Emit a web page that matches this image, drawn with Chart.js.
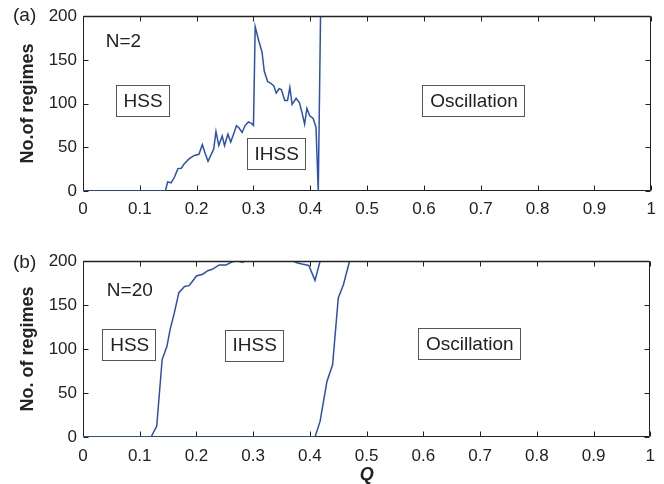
<!DOCTYPE html>
<html>
<head>
<meta charset="utf-8">
<script src="https://cdn.jsdelivr.net/npm/chart.js@4/dist/chart.umd.min.js"></script>
<style>
    html, body { margin: 0; padding: 0; background: #fff; }
    #wrap { position: relative; width: 664px; height: 484px; }
    .panel { position: absolute; left: 0; width: 664px; height: 242px; }
</style>
</head>
<body>
<div id="wrap">
    <div class="panel" style="top:0"><canvas id="chartA" width="664" height="242"></canvas></div>
    <div class="panel" style="top:242px"><canvas id="chartB" width="664" height="242"></canvas></div>
</div>
<script>
// tick labels
const xTicks = [0, 0.1, 0.2, 0.3, 0.4, 0.5, 0.6, 0.7, 0.8, 0.9, 1]
const yTicks = [0, 50, 100, 150, 200]

// panel (a), N=2
const qA = [0, 0.145, 0.149, 0.155, 0.161, 0.167, 0.173, 0.178, 0.187, 0.196, 0.204, 0.21, 0.215,
    0.22, 0.225, 0.23, 0.234, 0.239, 0.245, 0.249, 0.255, 0.26, 0.266, 0.27, 0.274, 0.28, 0.285,
    0.291, 0.297, 0.3, 0.303, 0.309, 0.315, 0.319, 0.325, 0.33, 0.336, 0.34, 0.345, 0.349, 0.355,
    0.36, 0.364, 0.368, 0.375, 0.381, 0.386, 0.39, 0.394, 0.399, 0.405, 0.41, 0.414, 0.418, 1]
const regimesA = [0, 0, 10.5, 9.4, 16, 25.6, 26, 31, 37, 40.7, 42, 53, 43,
    34, 41, 48, 68, 52, 63, 52, 65, 56, 67, 74.6, 72.7, 67, 74.6,
    79, 77, 75, 188, 172.5, 159, 137, 125, 123.5, 120, 112, 117, 116, 103.6,
    103.6, 118.6, 99, 106, 101, 88, 76.5, 94.5, 86, 83, 73, 0, 200, 200]

// panel (b), N=20
const qB1 = [0, 0.12, 0.13, 0.1395, 0.148, 0.1535, 0.161, 0.169, 0.179, 0.187, 0.193, 0.2, 0.211,
    0.22, 0.228, 0.24, 0.252, 0.263, 0.272, 0.281, 0.287, 0.371, 0.377, 0.386, 0.398, 0.409, 0.418, 1]
const regimesB1 = [0, 0, 12.5, 88, 103, 122, 141, 164, 171, 172, 177, 183, 185,
    189, 190.6, 195.5, 195.5, 199, 200, 198.5, 200, 200, 198, 196.6, 195, 178, 200, 200]
const qB2 = [0, 0.409, 0.418, 0.43, 0.44, 0.45, 0.459, 0.47, 1]
const regimesB2 = [0, 0, 18, 63, 82, 158, 173, 200, 200]

const notesA = [
    { text: 'N=2', q: 0.04, n: 170.6 },
    { text: 'HSS', q: 0.104, n: 103.4, boxed: true },
    { text: 'IHSS', q: 0.339, n: 42.9, boxed: true },
    { text: 'Oscillation', q: 0.6865, n: 103.4, boxed: true },
]
const notesB = [
    { text: 'N=20', q: 0.042, n: 166 },
    { text: 'HSS', q: 0.0806, n: 105, boxed: true },
    { text: 'IHSS', q: 0.301, n: 104.5, boxed: true },
    { text: 'Oscillation', q: 0.68, n: 105.7, boxed: true },
]

const FONT = '"Liberation Sans", Arial, Helvetica, sans-serif'
const LINE = '#2b50b0'
const INK = '#222'

const toPoints = (qs, vals) => qs.map((q, i) => ({ x: q, y: vals[i] }))

const edges = (a) => ({
    L: Math.round(a.left) + 0.5,
    R: Math.round(a.right) - 0.5,
    T: Math.round(a.top) + 0.5,
    B: Math.round(a.bottom) - 0.5
})

// MATLAB-like box with inward ticks (under the lines), text notes on top
const makeBoxPlugin = (notes, tag, tagY) => ({
    id: 'matlabBox',
    beforeDatasetsDraw(chart) {
        const { ctx, chartArea, scales: { x, y } } = chart
        const { L, R, T, B } = edges(chartArea)
        ctx.save()
        ctx.strokeStyle = INK
        ctx.lineWidth = 1
        ctx.beginPath()
        xTicks.forEach((v) => {
            const px = Math.round(x.getPixelForValue(v)) + 0.5
            ctx.moveTo(px, B); ctx.lineTo(px, B - 5)
            ctx.moveTo(px, T); ctx.lineTo(px, T + 5)
        })
        yTicks.forEach((v) => {
            const py = Math.round(y.getPixelForValue(v)) + 0.5
            ctx.moveTo(L, py); ctx.lineTo(L + 5, py)
            ctx.moveTo(R, py); ctx.lineTo(R - 5, py)
        })
        ctx.rect(L, T, R - L, B - T)
        ctx.stroke()
        ctx.restore()
    },
    afterDatasetsDraw(chart) {
        const { ctx, chartArea, scales: { x, y } } = chart
        const { L, R, T } = edges(chartArea)
        ctx.save()
        // top edge stays dark over the clipped curve
        ctx.strokeStyle = INK
        ctx.lineWidth = 1.5
        ctx.beginPath()
        ctx.moveTo(L, T); ctx.lineTo(R, T)
        ctx.stroke()

        ctx.lineWidth = 1
        ctx.font = '19px ' + FONT
        ctx.textBaseline = 'middle'
        notes.forEach((n) => {
            const px = x.getPixelForValue(n.q)
            const py = y.getPixelForValue(n.n)
            if (n.boxed) {
                const w = Math.round(ctx.measureText(n.text).width + 14)
                const h = 31
                const bx = Math.round(px - w / 2) + 0.5
                const by = Math.round(py - h / 2) + 0.5
                ctx.fillStyle = '#fff'
                ctx.fillRect(bx, by, w, h)
                ctx.strokeStyle = '#555'
                ctx.strokeRect(bx, by, w, h)
                ctx.fillStyle = INK
                ctx.textAlign = 'center'
                ctx.fillText(n.text, px + 1, py + 1)
            } else {
                ctx.fillStyle = INK
                ctx.textAlign = 'left'
                ctx.fillText(n.text, px, py)
            }
        })

        ctx.textAlign = 'left'
        ctx.fillStyle = INK
        ctx.fillText(tag, 13, tagY)
        ctx.restore()
    }
})

const makePanel = (id, datasets, yTitle, xTitle, notes, tag, tagY, padTop, axisH, xPad) => {
    return new Chart(document.getElementById(id), {
        type: 'scatter',
        data: { datasets },
        options: {
            responsive: false,
            animation: false,
            layout: { padding: { top: padTop, right: 10, left: 0, bottom: 0 } },
            plugins: { legend: { display: false }, tooltip: { enabled: false } },
            elements: { point: { radius: 0 }, line: { tension: 0 } },
            scales: {
                x: {
                    type: 'linear',
                    min: 0,
                    max: 1,
                    afterBuildTicks: (s) => { s.ticks = xTicks.map((v) => ({ value: v })) },
                    afterFit: (s) => { s.height = axisH },
                    grid: { display: false, drawTicks: false },
                    border: { display: false },
                    ticks: {
                        padding: xPad,
                        maxRotation: 0,
                        autoSkip: false,
                        color: INK,
                        font: { family: FONT, size: 17 },
                        callback: (v) => String(v)
                    },
                    title: {
                        display: !!xTitle,
                        text: xTitle,
                        color: INK,
                        padding: 0,
                        font: { family: FONT, size: 18, weight: 'bold', style: 'italic', lineHeight: 1 }
                    }
                },
                y: {
                    type: 'linear',
                    min: 0,
                    max: 200,
                    afterBuildTicks: (s) => { s.ticks = yTicks.map((v) => ({ value: v })) },
                    afterFit: (s) => { s.width = 83 },
                    grid: { display: false, drawTicks: false },
                    border: { display: false },
                    ticks: {
                        padding: 6,
                        color: INK,
                        font: { family: FONT, size: 17 },
                        callback: (v) => String(v)
                    },
                    title: {
                        display: true,
                        text: yTitle,
                        color: INK,
                        padding: { top: 17, bottom: 0 },
                        font: { family: FONT, size: 18, weight: 'bold' }
                    }
                }
            }
        },
        plugins: [makeBoxPlugin(notes, tag, tagY)]
    })
}

const lineStyle = { borderColor: LINE, borderWidth: 1.5, showLine: true, fill: false, pointRadius: 0 }

makePanel('chartA', [
    { ...lineStyle, label: 'N=2', data: toPoints(qA, regimesA) }
], 'No.of regimes', '', notesA, '(a)', 16, 14, 51, 8)

makePanel('chartB', [
    { ...lineStyle, label: 'N=20', data: toPoints(qB1, regimesB1) },
    { ...lineStyle, label: 'N=20 (b)', data: toPoints(qB2, regimesB2) }
], 'No. of regimes', 'Q', notesB, '(b)', 21, 19, 47, 9)
</script>
</body>
</html>
